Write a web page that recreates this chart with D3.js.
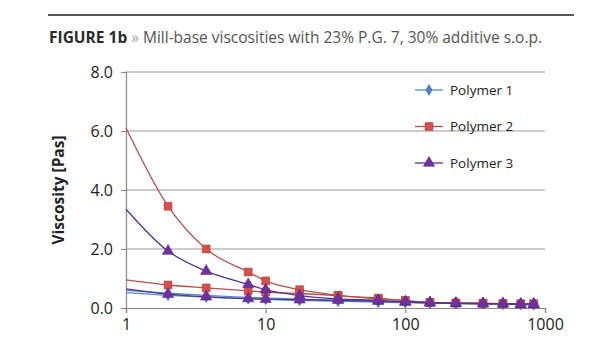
<!DOCTYPE html>
<html>
<head>
<meta charset="utf-8">
<script src="https://cdn.jsdelivr.net/npm/d3@7"></script>
<style>
  body { margin: 0; background: #fff; }
  text { font-family: "Open Sans", sans-serif; }
</style>
</head>
<body>
<div id="chart"></div>
<script>
// shear rates [1/s], first point has no marker (curve start)
const shearRates = [1, 2, 3.75, 7.5, 10, 17.5, 33, 64, 100, 150, 230, 360, 500, 670, 830];

const polymer1a = [0.60, 0.50, 0.43, 0.36, 0.34, 0.30, 0.26, 0.22, 0.20, 0.18, 0.16, 0.15, 0.14, 0.13, 0.12];
const polymer1b = [0.52, 0.43, 0.37, 0.31, 0.29, 0.26, 0.23, 0.20, 0.18, 0.16, 0.15, 0.14, 0.13, 0.12, 0.11];
const polymer2a = [6.10, 3.45, 2.00, 1.22, 0.92, 0.62, 0.43, 0.33, 0.25, 0.19, 0.17, 0.16, 0.15, 0.14, 0.14];
const polymer2b = [0.95, 0.78, 0.68, 0.58, 0.54, 0.49, 0.42, 0.31, 0.25, 0.19, 0.17, 0.16, 0.15, 0.14, 0.14];
const polymer3a = [3.35, 1.93, 1.25, 0.80, 0.62, 0.42, 0.31, 0.26, 0.21, 0.18, 0.16, 0.15, 0.14, 0.13, 0.13];
const polymer3b = [0.65, 0.47, 0.38, 0.32, 0.30, 0.28, 0.26, 0.23, 0.20, 0.18, 0.16, 0.15, 0.14, 0.13, 0.13];

const legendNames = ["Polymer 1", "Polymer 2", "Polymer 3"];
const yTicks = [0, 2, 4, 6, 8];
const xTicks = [1, 10, 100, 1000];

const styles = [
    { line: "#4f8cc9", fill: "#4f81bd", stroke: "#3f6fa8", shape: d3.symbolDiamond, size: 34 },
    { line: "#b5504f", fill: "#d5504c", stroke: "#b0403c", shape: d3.symbolSquare, size: 62 },
    { line: "#53348f", fill: "#7030a0", stroke: "#5a2a8a", shape: d3.symbolTriangle, size: 55 }
];

const series = [
    { values: polymer1a, p: 0 }, { values: polymer1b, p: 0 },
    { values: polymer2a, p: 1 }, { values: polymer2b, p: 1 },
    { values: polymer3a, p: 2 }, { values: polymer3b, p: 2 }
];

const W = 615, H = 350;
const margin = { top: 72, right: 70, bottom: 42, left: 126 };
const width = W - margin.left - margin.right;
const height = H - margin.top - margin.bottom;

const svg = d3.select("#chart").append("svg")
    .attr("width", W)
    .attr("height", H);

// header rule + title
svg.append("line")
    .attr("x1", 48).attr("x2", 574)
    .attr("y1", 15).attr("y2", 15)
    .attr("stroke", "#222").attr("stroke-width", 1.5);

const title = svg.append("text")
    .attr("x", 49).attr("y", 43)
    .style("font-size", "15.5px");
title.append("tspan").style("font-weight", "bold").attr("fill", "#2a2a2a").text("FIGURE 1b");
title.append("tspan").attr("fill", "#a0a0a0").text(" » ");
title.append("tspan").attr("fill", "#555").text("Mill-base viscosities with 23% P.G. 7, 30% additive s.o.p.");

const g = svg.append("g")
    .attr("transform", `translate(${margin.left},${margin.top})`);

const x = d3.scaleLog().domain([1, 1000]).range([0, width]);
const y = d3.scaleLinear().domain([0, 8]).range([height, 0]);

// gridlines
g.selectAll(".grid")
    .data(yTicks.filter(d => d > 0))
    .enter().append("line")
    .attr("class", "grid")
    .attr("x1", 0).attr("x2", width)
    .attr("y1", d => y(d)).attr("y2", d => y(d))
    .attr("stroke", "#9a9a9a").attr("stroke-width", 1.2);

// axes
const yAxis = g.append("g")
    .call(d3.axisLeft(y).tickValues(yTicks).tickFormat(d3.format(".1f")).tickSize(5).tickPadding(8));
const xAxis = g.append("g")
    .attr("transform", `translate(0,${height})`)
    .call(d3.axisBottom(x).tickValues(xTicks).tickFormat(d3.format("d")).tickSize(5).tickPadding(6));

[yAxis, xAxis].forEach(a => {
    a.select(".domain").attr("stroke", "#8a8a8a").attr("stroke-width", 1.2);
    a.selectAll(".tick line").attr("stroke", "#8a8a8a").attr("stroke-width", 1.2);
    a.selectAll("text").attr("fill", "#222").style("font-size", "16px").style("font-family", "Open Sans");
});

// y label
svg.append("text")
    .attr("transform", `translate(64,${margin.top + height / 2}) rotate(-90)`)
    .attr("text-anchor", "middle")
    .style("font-size", "15.5px")
    .style("font-weight", "bold")
    .attr("fill", "#222")
    .text("Viscosity [Pas]");

const line = d3.line()
    .x(d => x(d[0]))
    .y(d => y(d[1]))
    .curve(d3.curveMonotoneX);

series.forEach(s => {
    const st = styles[s.p];
    const pts = shearRates.map((r, i) => [r, s.values[i]]);
    g.append("path")
        .datum(pts)
        .attr("fill", "none")
        .attr("stroke", st.line)
        .attr("stroke-width", 1.3)
        .attr("d", line);
});

series.forEach(s => {
    const st = styles[s.p];
    const pts = shearRates.map((r, i) => [r, s.values[i]]).slice(1);
    g.selectAll(null)
        .data(pts)
        .enter().append("path")
        .attr("transform", d => `translate(${x(d[0])},${y(d[1])})`)
        .attr("d", d3.symbol().type(st.shape).size(st.size))
        .attr("fill", st.fill)
        .attr("stroke", st.stroke)
        .attr("stroke-width", 0.6);
});

// legend
const legend = svg.append("g").attr("transform", "translate(415,90)");
legendNames.forEach((name, i) => {
    const st = styles[i];
    const row = legend.append("g").attr("transform", `translate(0,${i * 36.5})`);
    row.append("line")
        .attr("x1", 0).attr("x2", 28)
        .attr("stroke", st.line).attr("stroke-width", 1.3);
    row.append("path")
        .attr("transform", "translate(14,0)")
        .attr("d", d3.symbol().type(st.shape).size(st.size))
        .attr("fill", st.fill)
        .attr("stroke", st.stroke)
        .attr("stroke-width", 0.6);
    row.append("text")
        .attr("x", 35).attr("y", 4.5)
        .style("font-size", "13.5px")
        .attr("fill", "#222")
        .text(name);
});
</script>
</body>
</html>
